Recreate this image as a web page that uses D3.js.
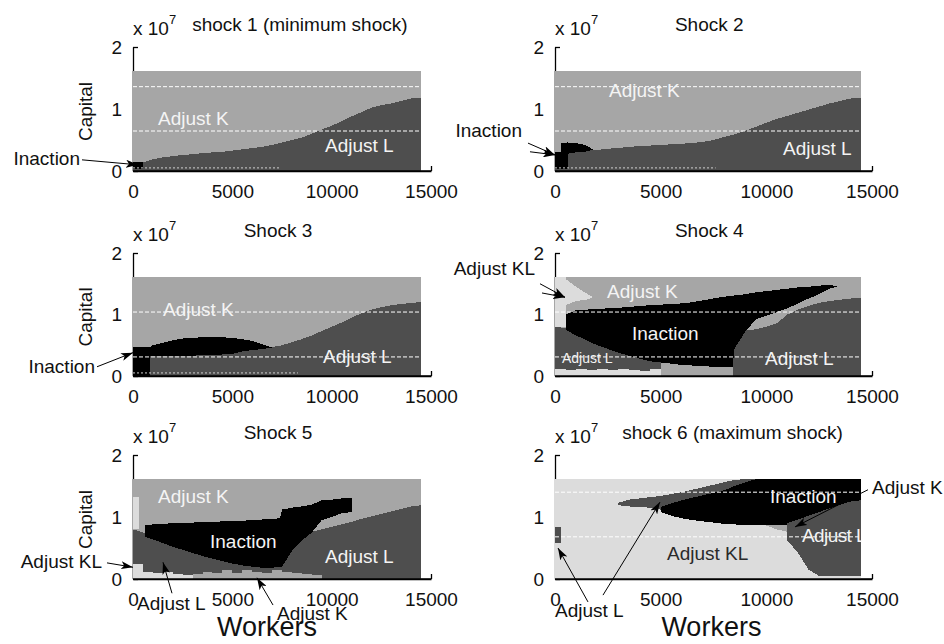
<!DOCTYPE html>
<html>
<head>
<meta charset="utf-8">
<script src="https://cdn.jsdelivr.net/npm/d3@7"></script>
<style>
  body { margin: 0; background: #fff; }
  svg { display: block; }
  text { font-family: "Liberation Sans", Arial, Helvetica, sans-serif; }
</style>
</head>
<body>
<svg id="chart" width="944" height="644"></svg>
<script>
// ---------------------------------------------------------------
// Policy regions of the firm for six productivity shocks.
// Workers on x, capital on y (in units of 10^7).
// Each region is a band: worker points, lower and upper capital.
// ---------------------------------------------------------------
const workerTicks = [0, 5000, 10000, 15000];
const capitalTicks = [0, 1, 2];
const workerMax = 14500;     // last edge of the worker grid
const capitalMax = 1.61;     // top edge of the capital grid (x 10^7)

const shockTitles = ["shock 1 (minimum shock)", "Shock 2", "Shock 3",
                     "Shock 4", "Shock 5", "shock 6 (maximum shock)"];
const titleCenters = [8400, 7300, 7300, 7300, 7300, 8400];   // in workers

// Worker grid points (500-worker spacing)
const workerGrid = [0, 500, 1000, 1500, 2000, 2500, 3000, 3500, 4000, 4500,
  5000, 5500, 6000, 6500, 7000, 7500, 8000, 8500, 9000, 9500,
  10000, 10500, 11000, 11500, 12000, 12500, 13000, 13500, 14000, 14500];

// ---- Shock 1 ----
const shock1AdjustLTop = [0.10, 0.14, 0.19, 0.22, 0.24, 0.26, 0.27, 0.29, 0.30, 0.31,
  0.33, 0.35, 0.37, 0.39, 0.42, 0.46, 0.50, 0.54, 0.60, 0.67,
  0.73, 0.80, 0.88, 0.95, 1.02, 1.06, 1.09, 1.13, 1.17, 1.18];
const shock1InactionWorkers = [0, 500];
const shock1InactionLow = [0.04];
const shock1InactionHigh = [0.14];
const shock1Guides = [1.36, 0.645];

// ---- Shock 2 ----
const shock2AdjustLTop = [0.30, 0.30, 0.32, 0.33, 0.34, 0.36, 0.37, 0.39, 0.40, 0.41,
  0.42, 0.43, 0.44, 0.45, 0.47, 0.50, 0.55, 0.59, 0.65, 0.71,
  0.78, 0.84, 0.89, 0.94, 0.99, 1.04, 1.09, 1.13, 1.17, 1.18];
const shock2BlockWorkers = [0, 600];
const shock2BlockLow = [0.03];
const shock2BlockHigh = [0.30];
const shock2TailWorkers = [300, 600, 1000, 1400, 1800];
const shock2TailLow = [0.28, 0.28, 0.30, 0.31, 0.34];
const shock2TailHigh = [0.45, 0.46, 0.45, 0.42, 0.35];
const shock2Guides = [1.36, 0.645];

// ---- Shock 3 ----
const shock3AdjustLTop = [0.40, 0.40, 0.40, 0.40, 0.40, 0.40, 0.40, 0.40, 0.40, 0.40,
  0.40, 0.45, 0.46, 0.47, 0.47, 0.50, 0.55, 0.60, 0.66, 0.73,
  0.80, 0.87, 0.95, 1.02, 1.08, 1.12, 1.15, 1.17, 1.19, 1.20];
const shock3ColumnWorkers = [0, 850];
const shock3ColumnHigh = [0.47];
const shock3HumpWorkers = [850, 1000, 1500, 2000, 2500, 3000, 3500, 4000, 4500,
  5000, 5500, 6000, 6500, 7000];
const shock3HumpLow = [0.33, 0.33, 0.33, 0.33, 0.33, 0.33, 0.34, 0.34, 0.35,
  0.36, 0.40, 0.42, 0.44, 0.46];
const shock3HumpHigh = [0.47, 0.50, 0.54, 0.58, 0.61, 0.62, 0.63, 0.63, 0.63,
  0.62, 0.60, 0.57, 0.52, 0.46];
const shock3Guides = [1.04, 0.31];

// ---- Shock 4 ----
const shock4LeftWorkers = [0, 500, 1000, 1500, 2000, 2500, 3000, 3500, 4000, 4500, 5000];
const shock4AdjustLLeftTop = [0.80, 0.78, 0.72, 0.62, 0.55, 0.48, 0.42, 0.37, 0.32, 0.28, 0.26];
const shock4AdjustKLBottomTop = [0.12, 0.10, 0.12, 0.10, 0.12, 0.10, 0.12, 0.10, 0.08, 0.12];
const shock4RightWorkers = [8400, 9000, 9500, 10000, 10500, 11000, 11500, 12000, 12500,
  13000, 13500, 14000, 14500];
const shock4AdjustLRightTop = [0.45, 0.74, 0.76, 0.80, 0.86, 1.00, 1.08, 1.14, 1.19,
  1.22, 1.24, 1.26, 1.27];
const shock4KLStripWorkers = [0, 500];
const shock4KLStripLow = [0.80];
const shock4KLWedgeWorkers = [500, 1000, 1500, 1800];
const shock4KLWedgeLow = [1.15, 1.22, 1.24, 1.28];
const shock4KLWedgeHigh = [1.58, 1.45, 1.34, 1.28];
const shock4InactionWorkers = [500, 1000, 1500, 2000, 2500, 3000, 3500, 4000, 4500, 5000,
  5500, 6000, 6500, 7000, 7500, 8000, 8400, 8500, 9000, 9500,
  10000, 10500, 11000, 11500, 12000, 12500, 13000, 13400];
const shock4InactionLow = [0.75, 0.66, 0.58, 0.50, 0.44, 0.38, 0.33, 0.28, 0.24, 0.22,
  0.20, 0.18, 0.17, 0.16, 0.15, 0.14, 0.14, 0.45, 0.72, 0.92,
  0.98, 1.04, 1.10, 1.18, 1.26, 1.33, 1.42, 1.46];
const shock4InactionHigh = [1.00, 1.07, 1.08, 1.09, 1.10, 1.11, 1.12, 1.14, 1.15, 1.16,
  1.17, 1.18, 1.20, 1.23, 1.26, 1.29, 1.30, 1.31, 1.33, 1.36,
  1.38, 1.40, 1.42, 1.44, 1.45, 1.47, 1.48, 1.46];
const shock4Guides = [1.04, 0.31];

// ---- Shock 5 ----
const shock5AdjustLTop = [0.80, 0.75, 0.70, 0.65, 0.60, 0.55, 0.50, 0.45, 0.40, 0.35,
  0.32, 0.30, 0.28, 0.26, 0.26, 0.28, 0.47, 0.64, 0.76, 0.80,
  0.84, 0.88, 0.92, 0.97, 1.01, 1.05, 1.09, 1.13, 1.17, 1.19];
const shock5KLStripWorkers = [0, 300];
const shock5KLStripLow = [0.80];
const shock5KLStripHigh = [1.33];
const shock5KLBottomWorkers = [0, 500, 1000, 1500, 2000, 2500, 3000];
const shock5KLBottomTop = [0.25, 0.12, 0.10, 0.12, 0.08, 0.06];
const shock5KBottomWorkers = [3000, 3500, 4000, 4500, 5000, 5500, 6000, 6500, 7000,
  7500, 8000, 8500, 9000, 9500];
const shock5KBottomTop = [0.08, 0.12, 0.10, 0.14, 0.10, 0.15, 0.12, 0.10, 0.14,
  0.12, 0.10, 0.08, 0.06];
const shock5InactionWorkers = [600, 1000, 1500, 2000, 2500, 3000, 3500, 4000, 4500, 5000,
  5500, 6000, 6500, 7000, 7400, 7500, 8000, 8500, 9000, 9500, 10000, 10500, 11000];
const shock5InactionLow = [0.68, 0.64, 0.58, 0.52, 0.47, 0.42, 0.37, 0.33, 0.29, 0.25,
  0.22, 0.20, 0.18, 0.18, 0.20, 0.20, 0.45, 0.62, 0.75, 0.95, 1.00, 1.06, 1.08];
const shock5InactionHigh = [0.87, 0.88, 0.89, 0.90, 0.90, 0.91, 0.92, 0.92, 0.93, 0.93,
  0.94, 0.95, 0.96, 0.97, 0.98, 1.12, 1.15, 1.17, 1.20, 1.27, 1.28, 1.30, 1.30];
const shock5Guides = [];

// ---- Shock 6 ----
const shock6BandWorkers = [3000, 3500, 4000, 4500, 5000, 5500, 6000, 6500, 7000,
  7500, 8000, 8500, 9000, 9500];
const shock6BandLow = [1.19, 1.17, 1.16, 1.15, 1.12, 1.10, 1.05, 1.00, 1.00,
  1.00, 1.00, 1.00, 1.00, 1.00];
const shock6BandHigh = [1.23, 1.28, 1.30, 1.32, 1.34, 1.37, 1.40, 1.44, 1.48,
  1.52, 1.56, 1.60, 1.61, 1.61];
const shock6InactionWorkers = [5000, 5500, 6000, 6500, 7000, 7500, 8000, 8500, 9000, 9500,
  10000, 10500, 11000, 11500, 12000, 12500, 13000, 13500, 14000, 14500];
const shock6InactionLow = [1.08, 1.02, 0.98, 0.95, 0.93, 0.91, 0.89, 0.88, 0.87, 0.87,
  0.87, 0.87, 0.87, 0.90, 0.95, 1.00, 1.05, 1.10, 1.15, 1.20];
const shock6InactionHigh = [1.16, 1.22, 1.27, 1.31, 1.35, 1.39, 1.43, 1.50, 1.56, 1.61,
  1.61, 1.61, 1.61, 1.61, 1.61, 1.61, 1.61, 1.61, 1.61, 1.61];
const shock6KWorkers = [10000, 10500, 11000];
const shock6KLow = [0.86, 0.80, 0.76];
const shock6KHigh = [0.87, 0.87, 0.87];
const shock6RightWorkers = [11000, 11500, 12000, 12500, 13000, 13500, 14000, 14500];
const shock6AdjustLRightLow = [0.62, 0.42, 0.15, 0.05, 0.05, 0.05, 0.05, 0.05];
const shock6AdjustLRightHigh = [0.90, 0.96, 1.02, 1.08, 1.14, 1.20, 1.25, 1.27];
const shock6LeftWorkers = [0, 300];
const shock6AdjustLLeftLow = [0.58];
const shock6AdjustLLeftHigh = [0.84];
const shock6Guides = [1.40, 0.68];

// Faint dotted line along the bottom of the grid (end in workers)
const baseDotEnds = [7400, 7600, 8300, null, null, null];

// ---------------------------------------------------------------
const COLORS = { K: "#a6a6a6", L: "#4e4e4e", KL: "#dcdcdc", I: "#000000" };
const WHITE = "#f4f4f4";
const DARK = "#111111";

const cols = [[133, 431], [555, 872]];
const rows = [[171, 47], [376, 253], [579, 455]];

const panels = [
  { bg: "K",
    layers: [
      { fill: "L", w: workerGrid, lo: 0, hi: shock1AdjustLTop },
      { fill: "I", w: shock1InactionWorkers, lo: shock1InactionLow, hi: shock1InactionHigh, step: true }],
    guides: shock1Guides,
    labels: [
      { t: "Adjust K", w: 1258, v: 0.74, fill: WHITE },
      { t: "Adjust L", w: 9665, v: 0.31, fill: WHITE },
      { t: "Inaction", w: -2668, v: 0.10, fill: DARK, anchor: "end" }],
    arrows: [{ from: [-2567, 0.18], to: [250, 0.10] }] },
  { bg: "K",
    layers: [
      { fill: "L", w: workerGrid, lo: 0, hi: shock2AdjustLTop },
      { fill: "I", w: shock2BlockWorkers, lo: shock2BlockLow, hi: shock2BlockHigh, step: true },
      { fill: "I", w: shock2TailWorkers, lo: shock2TailLow, hi: shock2TailHigh }],
    guides: shock2Guides,
    labels: [
      { t: "Adjust K", w: 2555, v: 1.19, fill: WHITE },
      { t: "Adjust L", w: 10789, v: 0.26, fill: WHITE },
      { t: "Inaction", w: -1562, v: 0.55, fill: DARK, anchor: "end" }],
    arrows: [{ from: [-1278, 0.45], to: [0, 0.26] }, { from: [-1183, 0.31], to: [0, 0.26] }] },
  { bg: "K",
    layers: [
      { fill: "L", w: workerGrid, lo: 0, hi: shock3AdjustLTop },
      { fill: "I", w: shock3ColumnWorkers, lo: 0, hi: shock3ColumnHigh, step: true },
      { fill: "I", w: shock3HumpWorkers, lo: shock3HumpLow, hi: shock3HumpHigh }],
    guides: shock3Guides,
    labels: [
      { t: "Adjust K", w: 1510, v: 0.98, fill: WHITE },
      { t: "Adjust L", w: 9565, v: 0.21, fill: WHITE },
      { t: "Inaction", w: -1913, v: 0.05, fill: DARK, anchor: "end" }],
    arrows: [{ from: [-1812, 0.15], to: [0, 0.38] }] },
  { bg: "K",
    layers: [
      { fill: "L", w: shock4LeftWorkers, lo: 0, hi: shock4AdjustLLeftTop },
      { fill: "L", w: shock4RightWorkers, lo: 0, hi: shock4AdjustLRightTop },
      { fill: "KL", w: shock4KLStripWorkers, lo: shock4KLStripLow, hi: capitalMax, step: true },
      { fill: "KL", w: shock4KLWedgeWorkers, lo: shock4KLWedgeLow, hi: shock4KLWedgeHigh },
      { fill: "KL", w: shock4LeftWorkers, lo: 0, hi: shock4AdjustKLBottomTop, step: true },
      { fill: "I", w: shock4InactionWorkers, lo: shock4InactionLow, hi: shock4InactionHigh }],
    guides: shock4Guides,
    labels: [
      { t: "Adjust KL", w: -946, v: 1.64, fill: DARK, anchor: "end" },
      { t: "Adjust K", w: 2460, v: 1.27, fill: WHITE },
      { t: "Inaction", w: 3644, v: 0.585, fill: WHITE },
      { t: "Adjust L", w: 331, v: 0.21, fill: WHITE, size: 14 },
      { t: "Adjust L", w: 9937, v: 0.18, fill: WHITE }],
    arrows: [{ from: [-710, 1.50], to: [473, 1.28] }, { from: [-615, 1.35], to: [473, 1.28] }] },
  { bg: "K",
    layers: [
      { fill: "L", w: workerGrid, lo: 0, hi: shock5AdjustLTop },
      { fill: "KL", w: shock5KLStripWorkers, lo: shock5KLStripLow, hi: shock5KLStripHigh, step: true },
      { fill: "KL", w: shock5KLBottomWorkers, lo: 0, hi: shock5KLBottomTop, step: true },
      { fill: "K", w: shock5KBottomWorkers, lo: 0, hi: shock5KBottomTop, step: true },
      { fill: "I", w: shock5InactionWorkers, lo: shock5InactionLow, hi: shock5InactionHigh }],
    guides: shock5Guides,
    labels: [
      { t: "Adjust K", w: 1258, v: 1.23, fill: WHITE },
      { t: "Inaction", w: 3876, v: 0.50, fill: WHITE },
      { t: "Adjust L", w: 9665, v: 0.26, fill: WHITE },
      { t: "Adjust KL", w: -1560, v: 0.18, fill: DARK, anchor: "end" },
      { t: "Adjust L", w: 201, v: -0.50, fill: DARK },
      { t: "Adjust K", w: 7249, v: -0.66, fill: DARK }],
    arrows: [
      { from: [-1309, 0.26], to: [0, 0.19] },
      { from: [1963, -0.23], to: [1510, 0.27] },
      { from: [7048, -0.42], to: [6242, 0.02] }] },
  { bg: "KL",
    layers: [
      { fill: "L", w: shock6BandWorkers, lo: shock6BandLow, hi: shock6BandHigh },
      { fill: "I", w: shock6InactionWorkers, lo: shock6InactionLow, hi: shock6InactionHigh },
      { fill: "K", w: shock6KWorkers, lo: shock6KLow, hi: shock6KHigh },
      { fill: "L", w: shock6RightWorkers, lo: shock6AdjustLRightLow, hi: shock6AdjustLRightHigh },
      { fill: "L", w: shock6LeftWorkers, lo: shock6AdjustLLeftLow, hi: shock6AdjustLLeftHigh, step: true }],
    guides: shock6Guides,
    labels: [
      { t: "Inaction", w: 10174, v: 1.23, fill: WHITE },
      { t: "Adjust KL", w: 5300, v: 0.31, fill: "#2a2a2a" },
      { t: "Adjust L", w: 11688, v: 0.60, fill: WHITE, clip: true, spacing: -0.6 },
      { t: "Adjust K", w: 15000, v: 1.37, fill: DARK },
      { t: "Adjust L", w: 0, v: -0.61, fill: DARK }],
    arrows: [
      { from: [14811, 1.44], to: [11357, 0.84] },
      { from: [1562, -0.37], to: [142, 0.50] },
      { from: [2271, -0.26], to: [4969, 1.24] }] }
];

// ---------------------------------------------------------------
const svg = d3.select("#chart");
const defs = svg.append("defs");
defs.append("marker")
    .attr("id", "head")
    .attr("viewBox", "0 0 12 8")
    .attr("refX", 12).attr("refY", 4)
    .attr("markerWidth", 12).attr("markerHeight", 8)
    .attr("markerUnits", "userSpaceOnUse")
    .attr("orient", "auto")
  .append("path")
    .attr("d", "M0,0 L12,4 L0,8 L3,4 Z")
    .attr("fill", "#000");

// band points: a scalar bound is constant, a short array repeats its last value
function bandPoints(layer) {
  const at = (a, i) => (typeof a === "number" ? a : a[Math.min(i, a.length - 1)]);
  return layer.w.map((w, i) => ({ w, lo: at(layer.lo, i), hi: at(layer.hi, i) }));
}

panels.forEach((p, i) => {
  const col = i % 2, row = Math.floor(i / 2);
  const x = d3.scaleLinear().domain([0, 15000]).range(cols[col]);
  const y = d3.scaleLinear().domain([0, 2]).range(rows[row]);
  const g = svg.append("g");
  const fontSize = 19;

  // axes (inward ticks, hidden where the grid covers them)
  const yAxis = d3.axisLeft(y).tickValues(capitalTicks).tickFormat(d3.format("d"))
      .tickSizeInner(-5).tickSizeOuter(0).tickPadding(11);
  const xAxis = d3.axisBottom(x).tickValues(workerTicks).tickFormat(d3.format("d"))
      .tickSizeInner(-5).tickSizeOuter(0).tickPadding(14);
  [g.append("g").attr("transform", `translate(${x(0)},0)`).call(yAxis),
   g.append("g").attr("transform", `translate(0,${y(0)})`).call(xAxis)]
    .forEach(a => {
      a.selectAll("path, line").attr("stroke", "#000").attr("stroke-width", 1.3);
      a.selectAll("text").attr("fill", DARK).attr("font-size", fontSize)
        .attr("font-family", "'Liberation Sans', Arial, sans-serif");
    });

  // policy grid
  const grid = g.append("g").attr("shape-rendering", "crispEdges");
  grid.append("rect")
      .attr("x", x(0) - 1).attr("y", y(capitalMax))
      .attr("width", x(workerMax) - x(0) + 1).attr("height", y(0) - y(capitalMax))
      .attr("fill", COLORS[p.bg]);
  p.layers.forEach(layer => {
    const area = d3.area().curve(layer.step ? d3.curveStepAfter : d3.curveLinear)
        .x(d => x(d.w)).y0(d => y(d.lo)).y1(d => y(d.hi));
    grid.append("path").attr("d", area(bandPoints(layer))).attr("fill", COLORS[layer.fill]);
  });

  // faint dotted base line
  if (baseDotEnds[i] !== null) {
    g.append("line")
      .attr("x1", x(0)).attr("x2", x(baseDotEnds[i]))
      .attr("y1", y(0.05)).attr("y2", y(0.05))
      .attr("stroke", "#cfcfcf").attr("stroke-width", 1).attr("stroke-dasharray", "2,2");
  }

  // white dashed guide lines
  p.guides.forEach(v => {
    g.append("line")
      .attr("x1", x(0)).attr("x2", x(workerMax))
      .attr("y1", y(v)).attr("y2", y(v))
      .attr("stroke", "#ffffff").attr("stroke-width", 1).attr("stroke-dasharray", "4,2");
  });

  // bottom axis line drawn over the grid
  g.append("line")
    .attr("x1", x(0)).attr("x2", x(15000))
    .attr("y1", y(0)).attr("y2", y(0))
    .attr("stroke", "#000").attr("stroke-width", 1.3);

  // clip for labels that sit on the grid edge
  const clipId = "clip" + i;
  defs.append("clipPath").attr("id", clipId).append("rect")
    .attr("x", x(0)).attr("y", y(capitalMax))
    .attr("width", x(workerMax) - x(0)).attr("height", y(0) - y(capitalMax));

  // region labels
  p.labels.forEach(l => {
    const t = g.append("text")
      .attr("x", x(l.w)).attr("y", y(l.v))
      .attr("text-anchor", l.anchor || "start")
      .attr("font-size", l.size || fontSize)
      .attr("fill", l.fill)
      .text(l.t);
    if (l.spacing) t.attr("letter-spacing", l.spacing);
    if (l.clip) t.attr("clip-path", `url(#${clipId})`);
  });

  // annotation arrows
  p.arrows.forEach(a => {
    g.append("line")
      .attr("x1", x(a.from[0])).attr("y1", y(a.from[1]))
      .attr("x2", x(a.to[0])).attr("y2", y(a.to[1]))
      .attr("stroke", "#000").attr("stroke-width", 1)
      .attr("marker-end", "url(#head)");
  });

  // title and exponent
  g.append("text")
    .attr("x", x(titleCenters[i])).attr("y", y(2.26))
    .attr("text-anchor", "middle").attr("font-size", fontSize).attr("fill", DARK)
    .text(shockTitles[i]);
  const expo = g.append("text")
    .attr("x", x(0)).attr("y", y(2.2))
    .attr("font-size", fontSize).attr("fill", DARK);
  expo.append("tspan").text("x 10");
  expo.append("tspan").attr("dy", -11).attr("font-size", 13).text("7");

  // axis titles
  if (col === 0) {
    const cy = y(0.96), cx = x(0) - 41;
    g.append("text")
      .attr("transform", `translate(${cx},${cy}) rotate(-90)`)
      .attr("text-anchor", "middle").attr("font-size", fontSize).attr("fill", DARK)
      .text("Capital");
  }
  if (row === 2) {
    g.append("text")
      .attr("x", x(col === 0 ? 6750 : 7400)).attr("y", y(-0.92))
      .attr("text-anchor", "middle").attr("font-size", 27).attr("fill", DARK)
      .text("Workers");
  }
});
</script>
</body>
</html>
